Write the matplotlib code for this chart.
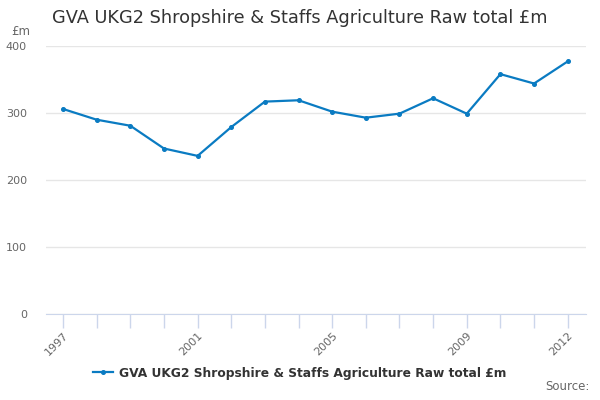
import matplotlib
matplotlib.use("Agg")
import matplotlib.pyplot as plt

years = list(range(1997, 2013))
values = [306, 290, 281, 247, 236, 279, 317, 319, 302, 293, 299, 322, 299, 358, 344, 377]
series_name = "GVA UKG2 Shropshire & Staffs Agriculture Raw total £m"
tick_years = [1997, 2001, 2005, 2009, 2012]
y_ticks = [0, 100, 200, 300, 400]

plt.rcParams['font.family'] = ['DejaVu Sans']

fig = plt.figure(figsize=(6, 4), dpi=100)
ax = fig.add_axes([0.077, 0.215, 0.9, 0.67])

line_color = "#0a7bc2"
ax.plot(years, values, color=line_color, linewidth=1.6, marker="o", markersize=2.6,
        label=series_name)

ax.set_xlim(1996.5, 2012.55)
ax.set_ylim(0, 400)
ax.set_yticks(y_ticks)
ax.set_yticklabels([str(v) for v in y_ticks], fontsize=8, color="#666666")
ax.grid(axis="y", color="#e6e6e6", linewidth=1)
ax.set_axisbelow(True)

# all years get a tick mark, only some get labels
ax.set_xticks(years)
ax.set_xticklabels([str(y) if y in tick_years else "" for y in years],
                   rotation=45, ha="right", rotation_mode="anchor",
                   fontsize=8, color="#666666")
ax.tick_params(axis="x", direction="out", length=10, color="#ccd6eb", width=1, pad=2)
ax.tick_params(axis="y", length=0, pad=14)

for side in ["top", "right", "left"]:
    ax.spines[side].set_visible(False)
ax.spines["bottom"].set_color("#ccd6eb")

fig.text(0.018, 0.912, "£m", fontsize=8.5, color="#666666")
fig.text(0.087, 0.955, series_name, fontsize=12.8, color="#333333", va="center")

leg = fig.legend(loc="center", bbox_to_anchor=(0.5, 0.067), frameon=False,
                 prop={"weight": "bold", "size": 8.85}, handlelength=1.6, handletextpad=0.5)
for t in leg.get_texts():
    t.set_color("#333333")

fig.text(0.982, 0.025, "Source:", fontsize=8.5, color="#666666", ha="right")

fig.savefig("out.png", dpi=100)
